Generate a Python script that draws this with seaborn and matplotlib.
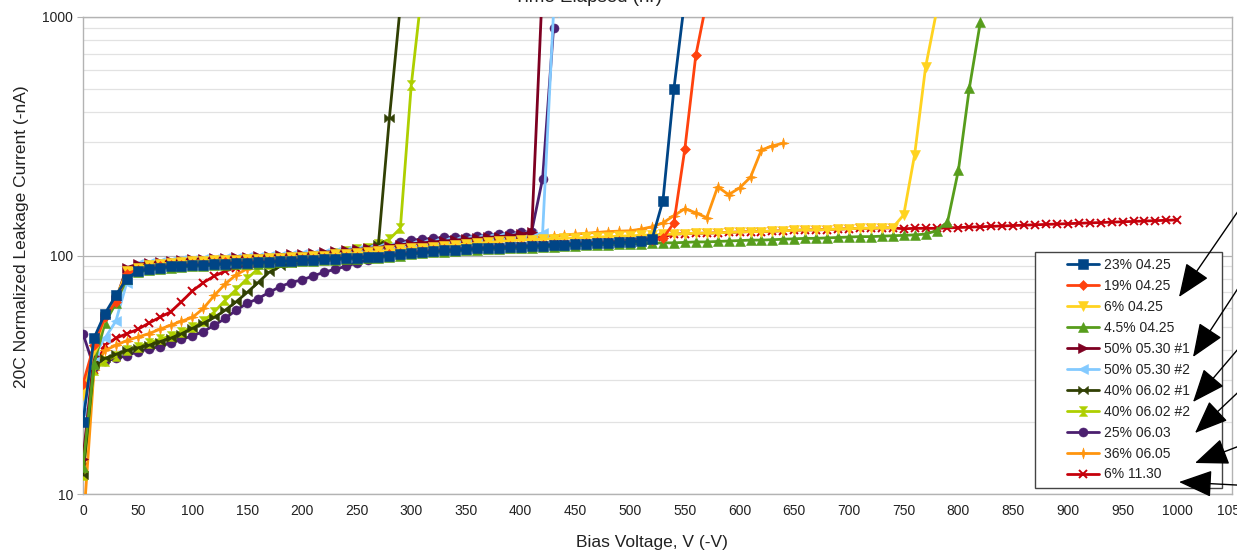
import numpy as np
import matplotlib
matplotlib.use("Agg")
import matplotlib.pyplot as plt
import seaborn as sns
from matplotlib.path import Path
from matplotlib.patches import Rectangle
from matplotlib.ticker import LogLocator, NullFormatter

# ---------------------------------------------------------------- data
# Bias voltage grid (V), 10 V steps; each series uses the leading part of it
bias_v = list(range(0, 1010, 10))

labels = ["23% 04.25", "19% 04.25", "6% 04.25", "4.5% 04.25",
          "50% 05.30 #1", "50% 05.30 #2", "40% 06.02 #1", "40% 06.02 #2",
          "25% 06.03", "36% 06.05", "6% 11.30"]

i_23_0425 = [20, 45, 57, 68, 80, 86, 88, 89, 90, 90.5,
             91, 91.5, 92, 92.5, 93, 93, 93.5, 94, 94.5, 95,
             95.5, 96, 96.5, 97, 97.5, 98, 98.5, 99, 100, 101,
             102, 103, 104, 105, 105.5, 106, 107, 107.5, 108, 108.5,
             109, 109.5, 110, 110.5, 111, 111.5, 112, 112.5, 113, 113.5,
             114, 115, 117, 170, 500, 1190]

i_19_0425 = [29, 42, 55, 64, 84, 87, 89, 90, 91, 91.5,
             92, 92.5, 93, 93.5, 94, 94, 94.5, 95, 95.5, 96,
             96.5, 97, 97.5, 98, 98.5, 99, 99.5, 100, 101, 102,
             103, 104, 105, 106, 106.5, 107, 108, 108.5, 109, 109.5,
             110, 110.5, 111, 111.5, 112, 112.5, 113, 113.5, 114, 114.5,
             115, 116, 116, 118, 137, 280, 690, 1170]

i_6_0425 = [26, 40, 55, 66, 86, 89, 91, 92, 93, 94,
            94.5, 95, 95.5, 96, 96, 96.5, 97, 97.5, 98, 98.5,
            99, 99.5, 100, 101, 101.5, 102, 103, 104, 105, 106,
            107, 108, 109, 110, 111, 111.5, 112.5, 113.5, 114.5, 115.5,
            116, 116.5, 117, 117.5, 118, 118.5, 119, 119.5, 120, 120.5,
            121, 121.5, 122, 122.5, 123, 123.5, 124, 124, 124.5, 125,
            125.5, 126, 126, 126.5, 127, 127.5, 128, 128, 128.5, 129,
            129.5, 130, 130, 130.5, 131, 148, 265, 617, 1055]

i_45_0425 = [13, 35, 52, 63, 80, 85, 87, 88, 89, 89.5,
             90, 90.5, 91, 91.5, 92, 92, 92.5, 93, 93.5, 94,
             94.5, 95, 95.5, 96, 96.5, 97, 97.5, 98, 99, 100,
             101, 102, 103, 103.5, 104, 105, 105.5, 106, 106.5, 107,
             107.5, 108, 108.5, 109, 109.5, 110, 110.5, 111, 111, 111.5,
             112, 112, 112.5, 113, 113, 113.5, 114, 114, 114.5, 115,
             115.5, 116, 116, 116.5, 117, 117.5, 118, 118, 118.5, 119,
             119.5, 120, 120, 120.5, 121, 121.5, 122, 123, 127, 138,
             228, 504, 950]

i_50_0530_1 = [14, 38, 55, 65, 89, 92, 93, 94, 95, 96,
               96.5, 97, 97.5, 98, 98.5, 99, 99.5, 100, 100.5, 101,
               101.5, 102, 103, 104, 105, 106, 107, 108, 110, 111,
               112, 113, 114, 115, 116, 117, 118, 119, 120, 121,
               123, 125, 1400]

i_50_0530_2 = [22, 38, 45, 53, 77, 92, 93, 94, 95, 95.5,
               96, 96.5, 97, 97.5, 98, 98.5, 99, 99.5, 100, 100.5,
               101, 101.5, 102.5, 103.5, 104.5, 105.5, 106.5, 107.5, 109, 110,
               111, 112, 113, 114, 115, 116, 117, 118, 119, 120,
               121, 122, 124, 1050]

i_40_0602_1 = [12, 35, 37, 38.5, 40, 41, 42, 43.5, 45, 47,
               49.5, 52, 55, 59, 64, 70, 77, 85, 90, 93,
               95, 97, 99, 101, 103, 105, 108, 112, 377, 1115]

i_40_0602_2 = [12, 33, 36, 38, 40, 41.5, 43, 44.5, 46, 48,
               50, 53, 58, 65, 72, 80, 88, 92, 94, 96,
               97.5, 99, 100.5, 102, 104, 106, 108, 112, 117, 130,
               519, 1325]

i_25_0603 = [47, 34, 36, 37, 38, 39.5, 40.5, 41.5, 43, 44.5,
             46, 48, 51, 54.5, 59, 63, 66, 70, 74, 77,
             79, 82, 85, 87.5, 90, 93, 96, 100, 109, 114,
             116, 117, 118, 119, 119.5, 120, 121, 122, 123, 124,
             125, 126, 210, 900]

i_36_0605 = [7, 33, 40, 42, 44, 45.5, 47, 49, 51, 53,
             55, 60, 68, 76, 83, 88, 91, 93, 95, 96,
             97, 98, 99, 100, 101, 102, 103, 104, 105.5, 107,
             108, 109, 110, 111, 112, 113, 114, 115, 116, 117,
             118, 119, 120, 121, 122, 123, 124, 125, 126, 126.5,
             127, 129, 132, 137, 147, 157, 151, 144, 194, 180,
             192, 213, 277, 288, 296]

i_6_1130 = [13, 33, 42, 45, 47, 49, 52, 55, 58, 64,
            71, 77, 82, 86, 89, 91, 93, 94, 95, 95.5,
            96, 96.5, 97, 97.5, 98, 98.5, 99, 100, 101, 102,
            103, 104, 105, 106, 106.5, 107, 108, 108.5, 109, 109.5,
            110, 110.5, 111, 111.5, 112, 112.5, 113, 113.5, 114, 114.5,
            116, 117, 118, 119.5, 123, 123.5, 124, 124, 124.5, 125,
            125.5, 126, 126, 126.5, 127, 127.5, 128, 128, 128.5, 129,
            129.5, 130, 130, 130.5, 130.5, 129.5, 130, 130, 130, 130.5,
            131, 131.5, 132, 132.5, 133, 133.5, 134, 134.5, 135, 135.5,
            136, 136.5, 137, 137.5, 138, 138.5, 139, 139.5, 140, 140.5,
            141]

series = [i_23_0425, i_19_0425, i_6_0425, i_45_0425, i_50_0530_1,
          i_50_0530_2, i_40_0602_1, i_40_0602_2, i_25_0603, i_36_0605,
          i_6_1130]

# ---------------------------------------------------------------- styles
colors = ["#004586", "#ff420e", "#ffd320", "#579d1c", "#7e0021",
          "#83caff", "#314004", "#aecf00", "#4b1f6f", "#ff950e", "#c5000b"]

bowtie = Path([(-1, -0.85), (1, 0.85), (1, -0.85), (-1, 0.85), (-1, -0.85)],
              [Path.MOVETO, Path.LINETO, Path.LINETO, Path.LINETO, Path.CLOSEPOLY])
hourglass = Path([(-0.85, 1), (0.85, 1), (-0.85, -1), (0.85, -1), (-0.85, 1)],
                 [Path.MOVETO, Path.LINETO, Path.LINETO, Path.LINETO, Path.CLOSEPOLY])
star4 = Path([(0, 1), (0.22, 0.22), (1, 0), (0.22, -0.22), (0, -1),
              (-0.22, -0.22), (-1, 0), (-0.22, 0.22), (0, 1)],
             [Path.MOVETO] + [Path.LINETO] * 7 + [Path.CLOSEPOLY])

markers = ["s", "D", "v", "^", ">", "<", bowtie, hourglass, "o", star4, "x"]
msizes = [7, 5, 7, 6.5, 6.5, 6.5, 7, 7, 6.5, 8, 6]

# ---------------------------------------------------------------- figure
sns.set_theme(style="white")
plt.rcParams["font.family"] = ["Liberation Sans", "DejaVu Sans"]

W, H = 1237, 553
fig = plt.figure(figsize=(W / 100, H / 100), dpi=100)
ax = fig.add_axes([83 / W, 59 / H, 1149 / W, 477 / H])

for k, (vals, lab, col, mk, ms) in enumerate(zip(series, labels, colors, markers, msizes)):
    xs = bias_v[:len(vals)]
    sns.lineplot(x=xs, y=vals, ax=ax, color=col, label=lab, linewidth=2.0,
                 marker=mk, markersize=ms, markeredgecolor=col,
                 markeredgewidth=1.4 if mk == "x" else 0.4,
                 estimator=None, sort=False, zorder=30 - k)

ax.set_yscale("log")
ax.set_ylim(10, 1000)
ax.set_xlim(0, 1050)
ax.set_xticks(range(0, 1051, 50))
ax.set_yticks([10, 100, 1000], labels=["10", "100", "1000"])
ax.yaxis.set_minor_locator(LogLocator(base=10, subs=np.arange(2, 10)))
ax.yaxis.set_minor_formatter(NullFormatter())

ax.grid(False)
ax.grid(which="major", axis="y", color="#b3b3b3", linewidth=0.9, zorder=0)
ax.grid(which="minor", axis="y", color="#e2e2e2", linewidth=0.9, zorder=0)
ax.set_axisbelow(True)
for sp in ax.spines.values():
    sp.set_color("#b3b3b3")
    sp.set_linewidth(1.0)

ax.tick_params(axis="x", which="major", direction="out", length=4, width=0.8,
               color="#b3b3b3", labelsize=10, labelcolor="#222222", pad=3)
ax.tick_params(axis="y", which="major", direction="out", length=4, width=0.8,
               color="#b3b3b3", labelsize=10, labelcolor="#222222", pad=3, left=True)
ax.tick_params(axis="y", which="minor", length=0)

# axis titles
fig.text(652 / W, 1 - 543 / H, "Bias Voltage, V (-V)", ha="center", va="center",
         fontsize=12.5, color="#222222")
fig.text(22 / W, 1 - 237 / H, "20C Normalized Leakage Current (-nA)", ha="center",
         va="center", rotation=90, fontsize=12.5, color="#222222")
fig.text(588 / W, 1 + 3 / H, "Time Elapsed (hr)", ha="center", va="center",
         fontsize=13.5, color="#222222")

# legend box and entries
box = Rectangle((1035 / W, 1 - 488 / H), 187 / W, 236 / H,
                transform=fig.transFigure, facecolor="white",
                edgecolor="#444444", linewidth=1.0, zorder=150, clip_on=False)
ax.add_patch(box)
handles, labs = ax.get_legend_handles_labels()
leg = ax.legend(handles, labs, loc="upper left",
                bbox_to_anchor=(1067 / W, 1 - 258 / H),
                bbox_transform=fig.transFigure, frameon=False,
                borderpad=0, borderaxespad=0, fontsize=10,
                labelspacing=0.5, handlelength=2.3, handletextpad=0.35,
                labelcolor="#222222")
leg.set_zorder(200)

# callout arrows pointing at the legend from the right
arrow_tips = [(1179, 297), (1193, 357), (1193, 402), (1195, 433), (1195, 463), (1179, 482)]
arrow_tails = [(1254, 188), (1250, 270), (1250, 335), (1250, 381), (1255, 440), (1255, 486)]
for (tx, ty), (sx, sy) in zip(arrow_tips, arrow_tails):
    ax.annotate("", xy=(tx, H - ty), xycoords="figure pixels",
                xytext=(sx, H - sy), textcoords="figure pixels",
                annotation_clip=False, zorder=250,
                arrowprops=dict(arrowstyle="-|>,head_length=2.1,head_width=0.85",
                                mutation_scale=10, color="black", lw=1.0,
                                shrinkA=0, shrinkB=0))

fig.savefig("out.png", dpi=100)
